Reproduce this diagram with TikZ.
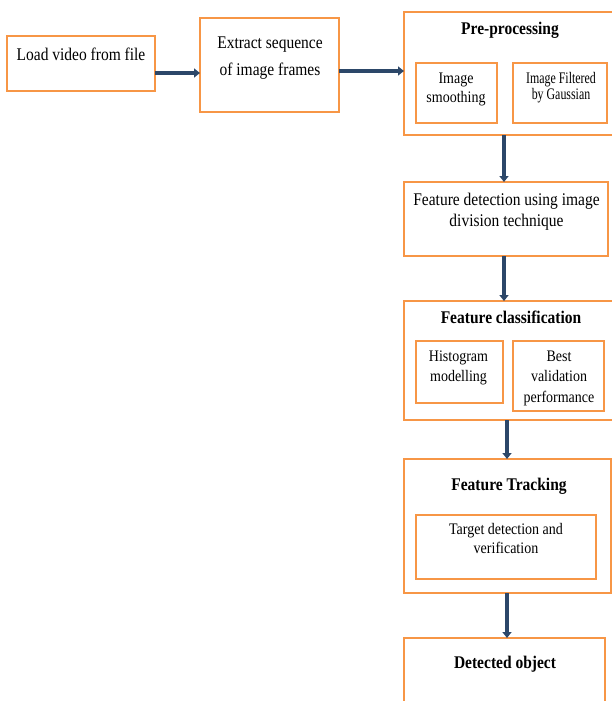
\documentclass[tikz,border=0pt]{standalone}
\usepackage{fontspec}
\setmainfont{Liberation Serif}
\usepackage{graphicx}
\usetikzlibrary{arrows.meta}
\definecolor{boxorange}{HTML}{F79646}
\definecolor{arrowblue}{HTML}{2C4769}
\newcommand\vt[3]{\scalebox{1}[1.15]{\fontsize{#1}{#2}\selectfont\begin{tabular}{@{}c@{}}#3\end{tabular}}}
\tikzset{
  box/.style={draw=boxorange, line width=2pt, inner sep=0pt, outer sep=0pt, anchor=north west},
  txt/.style={inner sep=0pt, outer sep=0pt, text=black},
  arr/.style={draw=arrowblue, line width=4pt, -{Triangle[width=9pt,length=6pt]}}
}
\begin{document}
\begin{tikzpicture}[x=1pt,y=-1pt]
\useasboundingbox (0,0) rectangle (612,701);
% boxes
\node[box, minimum width=148pt, minimum height=55pt] (b1) at (7,36) {};
\node[box, minimum width=139pt, minimum height=94pt] (b2) at (200,18) {};
\node[box, minimum width=210pt, minimum height=123pt] (b3) at (404,12) {};
\node[box, minimum width=81pt, minimum height=60pt] (b3a) at (416,63) {};
\node[box, minimum width=94pt, minimum height=60pt] (b3b) at (513,63) {};
\node[box, minimum width=204pt, minimum height=74pt] (b4) at (404,182) {};
\node[box, minimum width=210pt, minimum height=119pt] (b5) at (404,301) {};
\node[box, minimum width=87pt, minimum height=62pt] (b5a) at (416,341) {};
\node[box, minimum width=91pt, minimum height=70pt] (b5b) at (513,341) {};
\node[box, minimum width=207pt, minimum height=134pt] (b6) at (404,459) {};
\node[box, minimum width=180pt, minimum height=64pt] (b6a) at (416,515) {};
\node[box, minimum width=201pt, minimum height=80pt] (b7) at (404,638) {};
% texts
\node[txt] (t1) at (81,55) {\vt{15.5}{23.5}{Load video from file}};
\node[txt] (t2) at (270,56.5) {\vt{15.5}{23.5}{Extract sequence\\of image frames}};
\node[txt] (t3) at (510,29) {\vt{15.5}{23.5}{\bfseries Pre-processing}};
\node[txt] (t3a) at (456,89.5) {\vt{14}{16.5}{Image\\smoothing}};
\node[txt] (t3b) at (561,88) {\scalebox{0.85}[1]{\vt{14}{13.9}{Image Filtered\\by Gaussian}}};
\node[txt] (t4) at (506.5,211.5) {\vt{15.5}{18.3}{Feature detection using image\\division technique}};
\node[txt] (t5) at (511,318) {\vt{15.5}{23.5}{\bfseries Feature classification}};
\node[txt] (t5a) at (458.5,367) {\vt{14}{17.4}{Histogram\\modelling}};
\node[txt] (t5b) at (559,377.5) {\vt{14}{17.8}{Best\\validation\\performance}};
\node[txt] (t6) at (509,485) {\vt{15.5}{23.5}{\bfseries Feature Tracking}};
\node[txt] (t6a) at (506,540.5) {\vt{14}{16.5}{Target detection and\\verification}};
\node[txt] (t7) at (505,663) {\vt{15.5}{23.5}{\bfseries Detected object}};
% arrows
\draw[arr] ([yshift=-9.5pt]b1.east) -- ([yshift=-8pt]b2.west);
\draw[arr] ([yshift=-6pt]b2.east) -- ([yshift=2.5pt]b3.west);
\draw[arr] ([xshift=-5pt]b3.south) -- ([xshift=-2pt]b4.north);
\draw[arr] ([xshift=-2pt]b4.south) -- ([xshift=-5pt]b5.north);
\draw[arr] ([xshift=-2pt]b5.south) -- ([xshift=-0.5pt]b6.north);
\draw[arr] ([xshift=-0.5pt]b6.south) -- ([xshift=2.5pt]b7.north);
\end{tikzpicture}
\end{document}
